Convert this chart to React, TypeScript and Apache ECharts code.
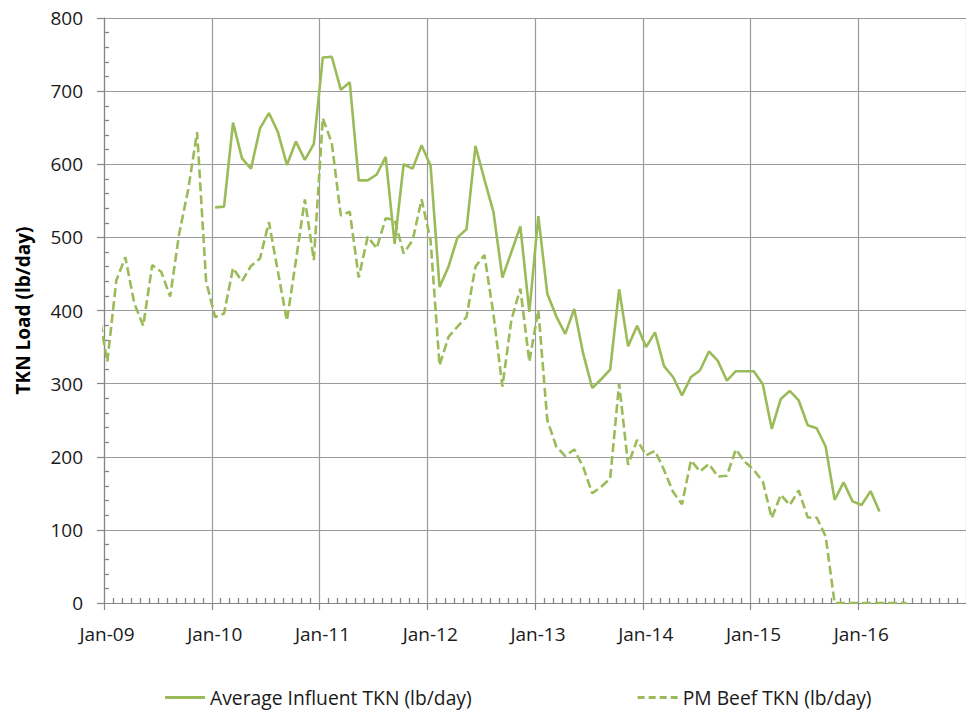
import React, { useEffect, useRef } from "react";
import * as echarts from "echarts";

// Tick labels of the date axis (one per January)
const yearTickLabels = ["Jan-09", "Jan-10", "Jan-11", "Jan-12", "Jan-13", "Jan-14", "Jan-15", "Jan-16"];

// Average Influent TKN (lb/day), monthly, starting Jan 2010
const influentStart = "2010-01";
const influentValues = [
  541, 542, 657, 608, 594, 649, 670, 644, 599, 631, 606, 628, // 2010
  746, 747, 702, 712, 578, 578, 586, 610, 491, 600, 594, 626, // 2011
  598, 432, 460, 500, 511, 625, 579, 535, 445, 480, 515, 398, // 2012
  529, 423, 392, 368, 402, 341, 294, 306, 319, 429, 351, 379, // 2013
  350, 370, 324, 309, 284, 309, 318, 344, 331, 304, 317, 317, // 2014
  317, 299, 238, 279, 290, 277, 243, 239, 214, 141, 165, 139, // 2015
  134, 153, 125, // 2016
];

// PM Beef TKN (lb/day), monthly, starting Dec 2008
const pmBeefStart = "2008-12";
const pmBeefValues = [
  400, // Dec 2008
  330, 441, 473, 410, 379, 462, 453, 419, 505, 565, 644, 440, // 2009
  391, 396, 458, 440, 461, 471, 521, 453, 386, 468, 552, 469, // 2010
  663, 629, 530, 535, 445, 501, 485, 526, 524, 478, 496, 552, // 2011
  496, 325, 364, 378, 391, 460, 476, 395, 296, 387, 430, 330, // 2012
  401, 250, 214, 201, 210, 186, 150, 159, 170, 300, 189, 223, // 2013
  202, 208, 182, 152, 135, 195, 180, 190, 173, 174, 210, 193, // 2014
  182, 166, 116, 148, 134, 154, 117, 117, 91, 0, 0, 0, // 2015
  0, 0, 0, 0, 0, 0, // 2016
];

const seriesNames = ["Average Influent TKN (lb/day)", "PM Beef TKN (lb/day)"];

const AXIS_START_YEAR = 2009;
const SAMPLE_DAY_FRACTION = 0.37; // samples taken around the 11th of each month

function monthIndex(ym: string): number {
  const [y, m] = ym.split("-").map(Number);
  return (y - AXIS_START_YEAR) * 12 + (m - 1);
}

function toPoints(start: string, values: number[]): [number, number][] {
  const s = monthIndex(start);
  return values.map((v, i) => [s + i + SAMPLE_DAY_FRACTION, v]);
}

const GREEN = "#9BBB59";
const GRID_GRAY = "#9a9a9a";
const AXIS_GRAY = "#868686";
const FONT = "Open Sans";

const SOLID_ICON = "path://M0,0H40V3H0Z";
const DASH_ICON = "path://M0,0H7V3H0Z M11,0H18V3H11Z M22,0H29V3H22Z M33,0H40V3H33Z";

export default function App() {
  const ref = useRef<HTMLDivElement>(null);

  useEffect(() => {
    if (!ref.current) return;
    const chart = echarts.init(ref.current, null, { renderer: "svg" });
    const gridRect = { left: 104, top: 18, right: -7, bottom: 110 };

    const option: any = {
      animation: false,
      backgroundColor: "#ffffff",
      grid: [
        { ...gridRect, containLabel: false },
        { ...gridRect, containLabel: false },
      ],
      legend: {
        data: [
          { name: seriesNames[0], icon: SOLID_ICON },
          { name: seriesNames[1], icon: DASH_ICON },
        ],
        left: 165,
        top: 688,
        padding: 0,
        itemWidth: 40,
        itemHeight: 3,
        itemGap: 166,
        textStyle: { fontFamily: FONT, fontSize: 19.3, color: "#1a1a1a" },
      },
      xAxis: [
        {
          type: "value",
          gridIndex: 0,
          min: 0,
          max: 96,
          interval: 12,
          axisLine: { show: true, onZero: false, lineStyle: { color: AXIS_GRAY, width: 1.2 } },
          axisTick: { show: true, inside: false, length: 7, lineStyle: { color: AXIS_GRAY, width: 1.2 } },
          minorTick: { show: false },
          axisLabel: {
            fontFamily: FONT,
            fontSize: 19,
            color: "#1a1a1a",
            margin: 21,
            padding: [0, 0, 0, 6],
            showMaxLabel: false,
            formatter: (v: number) => (v % 12 === 0 ? yearTickLabels[v / 12] ?? "" : ""),
          },
          splitLine: { show: true, lineStyle: { color: GRID_GRAY, width: 1.2 } },
        },
        {
          type: "value",
          gridIndex: 1,
          min: 0,
          max: 96,
          interval: 12,
          axisLine: { show: false },
          axisTick: { show: true, inside: true, length: 0 },
          minorTick: { show: true, splitNumber: 12, length: 5, lineStyle: { color: AXIS_GRAY, width: 1.3 } },
          axisLabel: { show: false },
          splitLine: { show: false },
        },
      ],
      yAxis: [
        {
          type: "value",
          gridIndex: 0,
          min: 0,
          max: 800,
          interval: 100,
          name: "TKN Load (lb/day)",
          nameLocation: "middle",
          nameGap: 72,
          nameTextStyle: { fontFamily: FONT, fontSize: 19, fontWeight: "bold", color: "#000000" },
          axisLine: { show: true, onZero: false, lineStyle: { color: AXIS_GRAY, width: 1.2 } },
          axisTick: { show: true, inside: false, length: 7, lineStyle: { color: AXIS_GRAY, width: 1.2 } },
          axisLabel: { fontFamily: FONT, fontSize: 19, color: "#1a1a1a", margin: 21 },
          splitLine: { show: true, lineStyle: { color: GRID_GRAY, width: 1.2 } },
        },
        {
          type: "value",
          gridIndex: 1,
          min: 0,
          max: 800,
          interval: 100,
          axisLine: { show: false },
          axisTick: { show: true, inside: true, length: 0 },
          minorTick: { show: true, splitNumber: 5, length: 5, lineStyle: { color: AXIS_GRAY, width: 1.3 } },
          axisLabel: { show: false },
          splitLine: { show: false },
        },
      ],
      series: [
        {
          name: seriesNames[0],
          type: "line",
          xAxisIndex: 0,
          yAxisIndex: 0,
          data: toPoints(influentStart, influentValues),
          symbol: "none",
          clip: true,
          lineStyle: { color: GREEN, width: 2.6, type: "solid" },
          itemStyle: { color: GREEN },
        },
        {
          name: seriesNames[1],
          type: "line",
          xAxisIndex: 0,
          yAxisIndex: 0,
          data: toPoints(pmBeefStart, pmBeefValues),
          symbol: "none",
          clip: true,
          lineStyle: { color: GREEN, width: 2.6, type: [9, 4] },
          itemStyle: { color: GREEN },
        },
      ],
    };

    chart.setOption(option);
    return () => chart.dispose();
  }, []);

  return (
    <div
      ref={ref}
      style={{ position: "absolute", left: 0, top: 0, width: 966, height: 713, background: "#fff" }}
    />
  );
}
